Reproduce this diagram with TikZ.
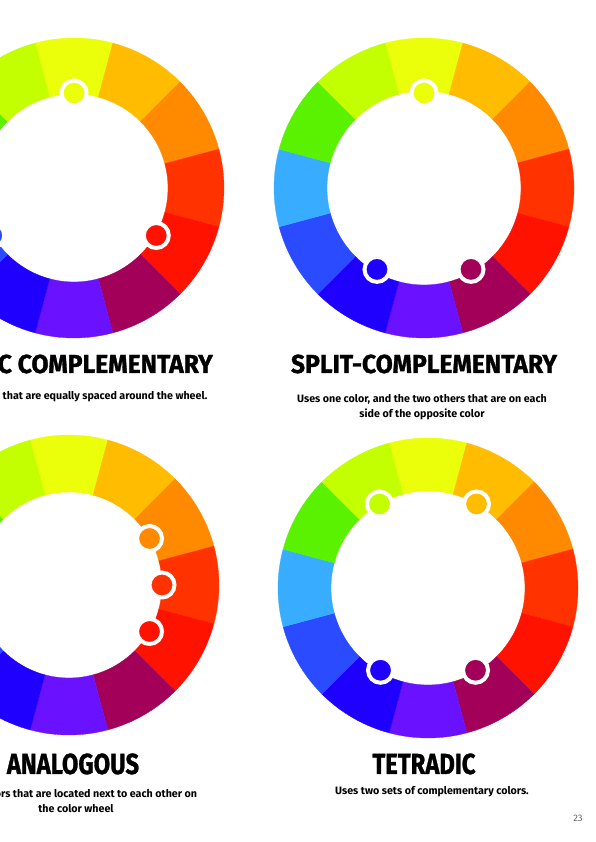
\documentclass[tikz,border=0pt]{standalone}
\usepackage{fontspec}
\setmainfont{Fira Sans}
\newfontfamily\titlefont[FakeBold=1.2]{Fira Sans}
\usepackage{xcolor}
\definecolor{wyellow}{RGB}{236,255,10}
\definecolor{wamber}{RGB}{255,188,0}
\definecolor{worange}{RGB}{255,138,0}
\definecolor{wvermil}{RGB}{255,50,0}
\definecolor{wred}{RGB}{255,18,0}
\definecolor{wplum}{RGB}{163,0,90}
\definecolor{wviolet}{RGB}{106,18,255}
\definecolor{wblue}{RGB}{31,0,255}
\definecolor{wroyal}{RGB}{42,75,255}
\definecolor{wsky}{RGB}{56,173,255}
\definecolor{wgreen}{RGB}{90,242,0}
\definecolor{wlime}{RGB}{195,255,0}
\usetikzlibrary{calc}
\newcommand\squeeze[2]{\scalebox{#1}[1]{#2}}
\tikzset{
  pick/.style   ={circle,draw=white,line width=4pt,minimum size=25pt,inner sep=0pt},
  title/.style  ={font=\titlefont\bfseries\fontsize{26}{26}\selectfont,inner sep=0pt},
  bigtitle/.style={font=\titlefont\bfseries\fontsize{29}{29}\selectfont,inner sep=0pt},
  blurb/.style  ={font=\fontsize{10.7}{15}\selectfont\bfseries,align=center,inner sep=0pt},
}

\begin{document}
\begin{tikzpicture}[x=1pt,y=1pt]
  \useasboundingbox (0,0) rectangle (595,842);
  \fill[white] (0,0) rectangle (595,842);
  \clip (0,0) rectangle (595,842);

  % ---- wheel centres -------------------------------------------------
  \coordinate (tri) at (74,654);
  \coordinate (split) at (424,654);
  \coordinate (ana) at (69,257);
  \coordinate (tet) at (428,254);

  % ---- twelve-step colour wheels --------------------------------------
  \foreach \w/\ri in {tri/94,split/97,ana/93,tet/97}{
    \foreach \a/\c in {90/wyellow,60/wamber,30/worange,0/wvermil,-30/wred,-60/wplum,
                       -90/wviolet,-120/wblue,-150/wroyal,180/wsky,150/wgreen,120/wlime}{
      \filldraw[\c,line width=0.3pt,shift={(\w)}]
        (\a-15:150) arc[start angle=\a-15,end angle=\a+15,radius=150]
        -- (\a+15:\ri) arc[start angle=\a+15,end angle=\a-15,radius=\ri] -- cycle;
    }
  }

  % ---- picked colours ---------------------------------------------------
  \node[pick,fill=wyellow] (tri1) at ($(tri)+(90:95)$) {};
  \node[pick,fill=wred]    (tri2) at ($(tri)+(-30:95)$) {};
  \node[pick,fill=wroyal]  (tri3) at ($(tri)+(-150:95)$) {};

  \node[pick,fill=wyellow] (split1) at ($(split)+(90:95)$) {};
  \node[pick,fill=wplum]   (split2) at ($(split)+(-60:94)$) {};
  \node[pick,fill=wblue]   (split3) at ($(split)+(-120:94)$) {};

  \node[pick,fill=worange] (ana1) at ($(ana)+(30:93)$) {};
  \node[pick,fill=wvermil] (ana2) at ($(ana)+(0:93)$) {};
  \node[pick,fill=wred]    (ana3) at ($(ana)+(-30:93)$) {};

  \node[pick,fill=wlime]   (tet1) at ($(tet)+(120:97)$) {};
  \node[pick,fill=wamber]  (tet2) at ($(tet)+(60:97)$) {};
  \node[pick,fill=wplum]   (tet3) at ($(tet)+(-60:95)$) {};
  \node[pick,fill=wblue]   (tet4) at ($(tet)+(-120:95)$) {};

  % ---- titles and captions ----------------------------------------------
  \node[title,anchor=base east] (tritl) at (213,469)
    {\squeeze{0.95}{TRIADIC COMPLEMENTARY}};
  \node[blurb,anchor=base] (tritx) at (76,442)
    {Uses colors that are equally spaced around the wheel.};

  \node[title,anchor=base] (splittl) at (424,469)
    {\squeeze{0.95}{SPLIT-COMPLEMENTARY}};
  \node[blurb,anchor=north] (splittx) at (422,448)
    {Uses one color, and the two others that are on each\\side of the opposite color};

  \node[bigtitle,anchor=base] (anatl) at (73,68)
    {\squeeze{0.82}{ANALOGOUS}};
  \node[blurb,anchor=north] (anatx) at (76,53)
    {Uses colors that are located next to each other on\\the color wheel};

  \node[bigtitle,anchor=base] (tettl) at (424,68)
    {\squeeze{0.82}{TETRADIC}};
  \node[blurb,anchor=base] (tettx) at (432,47)
    {Uses two sets of complementary colors.};

  \node[font=\fontsize{9.5}{10}\selectfont,text=black!60,anchor=base] (page) at (578,20) {23};
\end{tikzpicture}
\end{document}
